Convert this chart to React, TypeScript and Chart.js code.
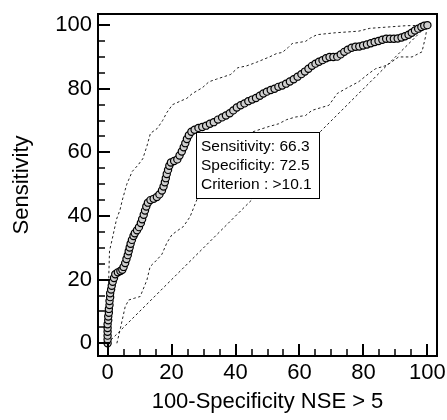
import React, { useEffect, useRef } from "react";
import { Chart, registerables } from "chart.js";

Chart.register(...registerables);

// ROC curve points (100-Specificity, Sensitivity)
const ROC_X = [0, 0, 0, 0, 0, 0, 0.2, 0.2, 0.4, 0.4, 0.6, 0.6, 0.8, 0.8, 1.1, 1.3, 1.6, 2, 2.4, 3.2, 4, 4.6, 5, 5.5, 5.9, 6.3, 6.6, 6.9, 7.2, 7.6, 8.1, 8.5, 9.2, 9.8, 10.4, 10.8, 11.3, 11.7, 12.1, 12.6, 13.4, 14.4, 15.4, 16.2, 17, 17.5, 17.9, 18.2, 18.5, 18.9, 19.3, 19.8, 20.8, 21.8, 22.5, 23.2, 23.8, 24.3, 24.8, 25.4, 26.2, 27.2, 28.4, 29.6, 30.8, 32, 33.2, 34.5, 35.8, 37, 38.2, 39.3, 40.4, 41.6, 42.8, 44, 45.2, 46.4, 47.6, 48.7, 49.8, 51, 52.2, 53.4, 54.6, 55.8, 57, 58.2, 59.4, 60.6, 61.7, 62.8, 63.9, 65, 66.1, 67.2, 68.3, 69.4, 70.6, 71.8, 72.9, 74, 75.1, 76.3, 77.5, 78.7, 79.9, 81.1, 82.3, 83.5, 84.7, 85.9, 87.1, 88.3, 89.5, 90.7, 91.9, 93, 94.1, 95.1, 96.1, 97.1, 98.1, 99, 100];
const ROC_Y = [0, 1.2, 2.4, 3.6, 4.8, 6, 7.2, 8.4, 9.6, 10.8, 12, 13.3, 14.5, 15.7, 16.9, 18.1, 19.3, 20.5, 21.7, 22.3, 22.7, 23.1, 24, 25.2, 26.5, 27.7, 28.9, 30.1, 31.3, 32.5, 33.7, 34.6, 35.5, 36.5, 37.8, 39, 40.4, 41.7, 43, 44.2, 45, 45.4, 46, 46.8, 48, 49.3, 50.6, 51.9, 53.2, 54.5, 55.8, 56.8, 57.3, 57.8, 59, 60.3, 61.6, 62.9, 64.2, 65.4, 66.5, 67.1, 67.7, 68, 68.4, 69, 69.5, 70.3, 71, 71.6, 72.3, 73.2, 74.1, 74.8, 75.4, 76.1, 76.6, 77.1, 77.8, 78.5, 79.1, 79.6, 80, 80.6, 81, 81.6, 82.3, 83, 83.8, 84.6, 85.4, 86.3, 87.2, 87.9, 88.5, 89, 89.6, 90, 90, 90.1, 90.8, 91.6, 92.3, 92.9, 93.2, 93.3, 93.6, 93.9, 94.3, 94.7, 95, 95.4, 95.7, 95.7, 95.7, 95.8, 96.1, 96.5, 97, 97.6, 98.3, 98.9, 99.4, 99.8, 100];

// Upper 95% confidence bound
const UPPER_X = [0, 0.2, 0.4, 0.6, 1.5, 2.8, 3.9, 4.6, 6, 7.7, 9.5, 11, 12.3, 13.4, 15.5, 17.2, 18.5, 20.3, 22.5, 24.8, 26.5, 29.6, 31.7, 34, 37, 38.5, 40.7, 43.5, 46.5, 50.6, 52.9, 54.6, 56.5, 57.7, 61.9, 63.5, 65.5, 71.2, 78.5, 82, 88.9, 93, 100];
const UPPER_Y = [0, 12, 22, 29, 33, 39, 42, 45, 50, 54, 56, 58, 62, 66, 67.5, 70, 72.5, 75, 76, 77, 78.5, 80.3, 82.2, 83, 84, 84.5, 86.6, 87.2, 88.3, 90, 91.1, 91.4, 93, 94.2, 94.9, 96, 97, 97.6, 98.1, 99, 99.5, 99.8, 100];

// Lower 95% confidence bound
const LOWER_X = [2.9, 3.9, 5.5, 6.6, 8.5, 10.2, 12.3, 13.3, 15.4, 17, 18.5, 20.1, 22, 23.7, 25.8, 27.9, 36, 45.5, 50, 53.5, 56, 58.7, 61.9, 63.9, 66.5, 69.2, 71.8, 74.4, 78.5, 81.7, 83.8, 87.4, 91, 95.2, 98.3, 99.4, 100];
const LOWER_Y = [0, 4.2, 11.5, 13.6, 14.2, 14.7, 19.9, 24.1, 26.2, 28, 31.5, 34.1, 35.5, 36.7, 39.8, 45.1, 55, 66.5, 68, 69, 70.3, 71.1, 71.6, 73.2, 74, 74.8, 78.5, 80, 82.2, 84.8, 86.3, 87.4, 90, 90, 91.6, 96.3, 100];

// Reference diagonal
const DIAG_X = [0, 100];
const DIAG_Y = [0, 100];

// Axes
const X_TICKS = [0, 20, 40, 60, 80, 100];
const Y_TICKS = [0, 20, 40, 60, 80, 100];
const MINOR_TICKS = [0, 5, 10, 15, 20, 25, 30, 35, 40, 45, 50, 55, 60, 65, 70, 75, 80, 85, 90, 95, 100];
const X_TITLE = "100-Specificity NSE > 5";
const Y_TITLE = "Sensitivity";

// Criterion annotation
const CUT_X = 27.5;
const CUT_Y = 66.3;
const NOTE_LINES = ["Sensitivity: 66.3", "Specificity: 72.5", "Criterion : >10.1"];

const FONT = "'Liberation Sans', Arial, sans-serif";

const toPts = (xs: number[], ys: number[]) => xs.map((x, i) => ({ x, y: ys[i] }));

const framePlugin = {
  id: "frameTicks",
  afterDatasetsDraw(chart: any) {
    const { ctx, scales } = chart;
    const px = Math.round(scales.x.getPixelForValue(CUT_X));
    const py = Math.round(scales.y.getPixelForValue(CUT_Y));
    const w = 123;
    const h = 66;
    ctx.save();
    ctx.fillStyle = "#ffffff";
    ctx.fillRect(px, py, w, h);
    ctx.strokeStyle = "#000";
    ctx.lineWidth = 1;
    ctx.strokeRect(px + 0.5, py + 0.5, w, h);
    ctx.fillStyle = "#000";
    ctx.font = `15.5px ${FONT}`;
    ctx.textBaseline = "middle";
    ctx.textAlign = "left";
    NOTE_LINES.forEach((t, i) => {
      ctx.fillText(t, px + 5, py + 15 + i * 19);
    });
    ctx.restore();
  },
  afterDraw(chart: any) {
    const { ctx, chartArea, scales } = chart;
    const { left, top, right, bottom } = chartArea;
    ctx.save();
    ctx.strokeStyle = "#000";
    for (const v of MINOR_TICKS) {
      const major = X_TICKS.includes(v);
      const x = Math.round(scales.x.getPixelForValue(v));
      ctx.lineWidth = major ? 2 : 1.5;
      ctx.beginPath();
      ctx.moveTo(x, bottom);
      ctx.lineTo(x, bottom - (major ? 12 : 7));
      ctx.stroke();
    }
    for (const v of MINOR_TICKS) {
      const major = Y_TICKS.includes(v);
      const y = Math.round(scales.y.getPixelForValue(v));
      ctx.lineWidth = major ? 2 : 1.5;
      ctx.beginPath();
      ctx.moveTo(left, y);
      ctx.lineTo(left + (major ? 12 : 7), y);
      ctx.stroke();
    }
    ctx.lineWidth = 2;
    ctx.strokeRect(left, top, right - left, bottom - top);
    ctx.restore();
  },
};

export default function App() {
  const ref = useRef<HTMLCanvasElement | null>(null);
  useEffect(() => {
    if (!ref.current) return;
    const dash = [2.5, 2.5];
    const chart = new Chart(ref.current, {
      type: "scatter",
      data: {
        datasets: [
          {
            label: "ROC",
            data: toPts(ROC_X, ROC_Y),
            showLine: false,
            pointRadius: 3.6,
            pointBackgroundColor: "#cfcfcf",
            pointBorderColor: "#000",
            pointBorderWidth: 1.2,
          },
          {
            label: "Upper",
            data: toPts(UPPER_X, UPPER_Y),
            showLine: true,
            pointRadius: 0,
            borderColor: "#222",
            borderWidth: 1,
            borderDash: dash,
          },
          {
            label: "Lower",
            data: toPts(LOWER_X, LOWER_Y),
            showLine: true,
            pointRadius: 0,
            borderColor: "#222",
            borderWidth: 1,
            borderDash: dash,
          },
          {
            label: "Diagonal",
            data: toPts(DIAG_X, DIAG_Y),
            showLine: true,
            pointRadius: 0,
            borderColor: "#222",
            borderWidth: 1,
            borderDash: dash,
          },
        ],
      },
      options: {
        responsive: false,
        animation: false,
        layout: { padding: { top: 14, right: 10, left: 0, bottom: 0 } },
        plugins: { legend: { display: false }, tooltip: { enabled: false } },
        scales: {
          x: {
            type: "linear",
            position: "bottom",
            min: -3,
            max: 103,
            grid: { display: false, drawTicks: false },
            border: { display: false },
            afterBuildTicks: (s: any) => {
              s.ticks = X_TICKS.map((v) => ({ value: v }));
            },
            afterFit: (s: any) => {
              s.height = 64;
              s.paddingLeft = 0;
              s.paddingRight = 0;
            },
            ticks: {
              color: "#000",
              padding: 4,
              maxRotation: 0,
              autoSkip: false,
              font: { family: FONT, size: 22 },
            },
            title: {
              display: true,
              text: X_TITLE,
              color: "#000",
              font: { family: FONT, size: 22 },
              padding: { top: 0, bottom: 5 },
            },
          },
          y: {
            type: "linear",
            position: "left",
            min: -4,
            max: 103.5,
            grid: { display: false, drawTicks: false },
            border: { display: false },
            afterBuildTicks: (s: any) => {
              s.ticks = Y_TICKS.map((v) => ({ value: v }));
            },
            afterFit: (s: any) => {
              s.width = 98;
              s.paddingTop = 0;
              s.paddingBottom = 0;
            },
            ticks: {
              color: "#000",
              padding: 6,
              autoSkip: false,
              font: { family: FONT, size: 22 },
            },
            title: {
              display: true,
              text: Y_TITLE,
              color: "#000",
              font: { family: FONT, size: 22 },
              padding: { top: 9, bottom: 0 },
            },
          },
        },
      },
      plugins: [framePlugin],
    });
    return () => chart.destroy();
  }, []);
  return (
    <div style={{ position: "absolute", left: 0, top: 0, width: 447, height: 420, background: "#fff" }}>
      <canvas ref={ref} width={447} height={420} style={{ display: "block" }} />
    </div>
  );
}
